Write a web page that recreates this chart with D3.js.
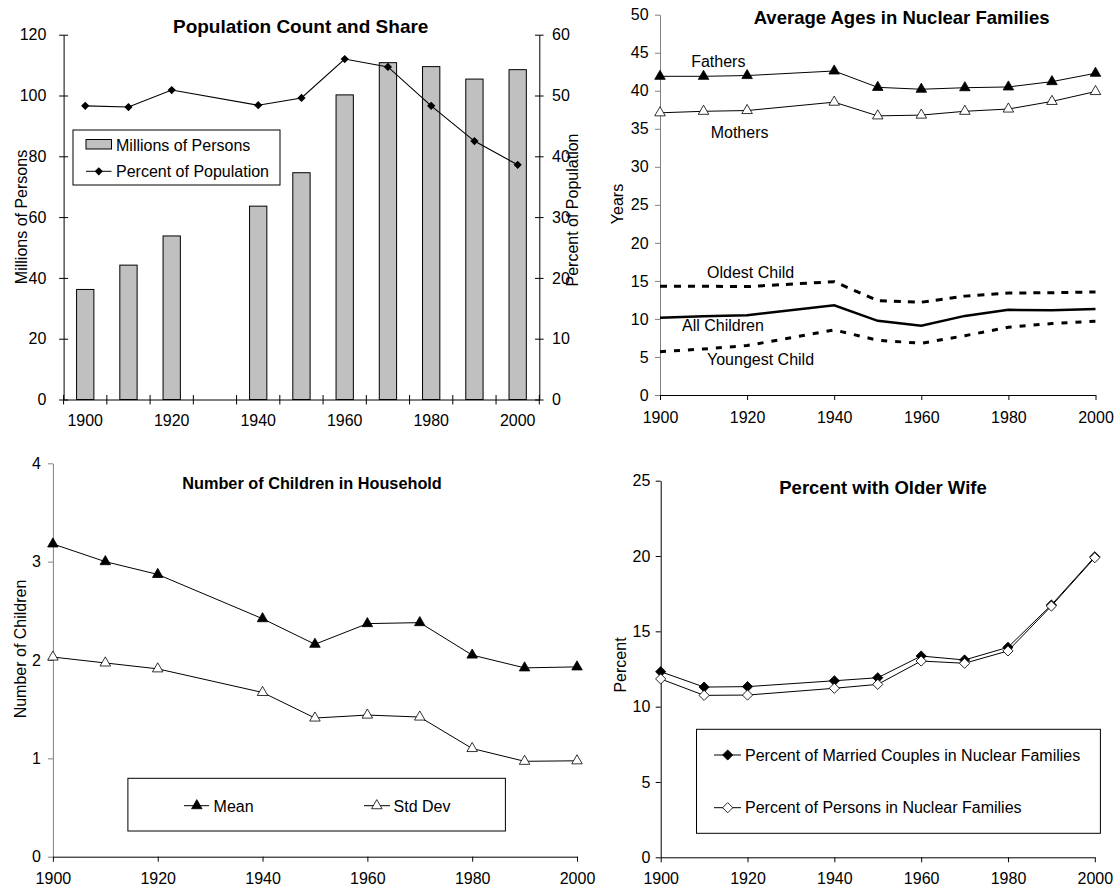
<!DOCTYPE html>
<html><head><meta charset="utf-8">
<script src="https://cdn.jsdelivr.net/npm/d3@7"></script>
<style>body{margin:0;background:#fff} svg{display:block}</style>
</head><body><svg id="c" width="1116" height="888"></svg>
<script>
// ---------- DATA ----------
const years1 = ["1900","1910","1920","1930","1940","1950","1960","1970","1980","1990","2000"];
const millions = [36.2,44.2,53.8,null,63.6,74.6,100.2,110.8,109.5,105.4,108.5];
const percentPop = [48.3,48.1,50.9,null,48.4,49.6,56.0,54.7,48.3,42.5,38.6];
const xLabels1 = ["1900","1920","1940","1960","1980","2000"];

const years = [1900,1910,1920,1940,1950,1960,1970,1980,1990,2000];
const fathers = [41.9,41.9,42.0,42.6,40.45,40.2,40.4,40.5,41.2,42.3];
const mothers = [37.1,37.3,37.4,38.5,36.7,36.8,37.3,37.6,38.6,39.9];
const oldest = [14.3,14.3,14.25,14.9,12.4,12.2,13.0,13.4,13.45,13.55];
const allChildren = [10.16,10.35,10.48,11.8,9.75,9.1,10.4,11.2,11.15,11.3];
const youngest = [5.7,6.05,6.5,8.55,7.2,6.8,7.8,8.9,9.4,9.7];

const meanKids = [3.18,3.0,2.87,2.42,2.16,2.37,2.38,2.05,1.92,1.93];
const sdKids = [2.03,1.97,1.91,1.67,1.41,1.44,1.42,1.10,0.97,0.975];

const marriedOlder = [12.32,11.3,11.33,11.72,11.92,13.36,13.1,13.94,16.75,19.95];
const personsOlder = [11.84,10.75,10.77,11.22,11.48,13.03,12.88,13.7,16.68,19.89];

const yearTicks = [1900,1920,1940,1960,1980,2000];

// ---------- HELPERS ----------
const FONT = '"Liberation Sans", Arial, Helvetica, sans-serif';
const svg = d3.select("#c");
svg.append("rect").attr("width",1116).attr("height",888).attr("fill","#fff");

function styleAxis(g, color){
  g.attr("font-family", FONT).attr("font-size", 16);
  g.selectAll("text").attr("fill","#000");
  g.select(".domain").attr("stroke", color);
  g.selectAll(".tick line").attr("stroke", color);
}
function txt(g, s, x, y, opt={}){
  const t = g.append("text").attr("x",x).attr("y",y).text(s)
    .attr("font-family",FONT).attr("font-size",opt.size||16)
    .attr("font-weight",opt.bold?"bold":"normal")
    .attr("text-anchor",opt.anchor||"start").attr("fill","#000");
  if(opt.ls) t.attr("letter-spacing",opt.ls);
  return t;
}
function vtxt(g, s, x, y){
  return g.append("text").attr("transform",`translate(${x},${y}) rotate(-90)`).text(s)
    .attr("font-family",FONT).attr("font-size",16).attr("text-anchor","middle").attr("fill","#000");
}
const diamond = s => d3.symbol(d3.symbolSquare, s)();
const tri = s => d3.symbol(d3.symbolTriangle, s)();

// ---------- PANEL 1 ----------
const p1 = svg.append("g");
const x1 = d3.scaleBand().domain(years1).range([63.6,539.3]).paddingInner(0.6).paddingOuter(0.3);
const y1L = d3.scaleLinear().domain([0,120]).range([399.5,34.7]);
const y1R = d3.scaleLinear().domain([0,60]).range([399.5,34.7]);
const cx1 = c => x1(c) + x1.bandwidth()/2;

const barData = years1.map((c,i)=>({c, v:millions[i]})).filter(d=>d.v!=null);
p1.selectAll("rect.bar").data(barData).join("rect").attr("class","bar")
  .attr("x",d=>x1(d.c)).attr("width",x1.bandwidth())
  .attr("y",d=>y1L(d.v)).attr("height",d=>y1L(0)-y1L(d.v))
  .attr("fill","#c0c0c0").attr("stroke","#000").attr("stroke-width",1);

const gL1 = p1.append("g").attr("transform","translate(63.6,0)")
  .call(d3.axisLeft(y1L).tickValues(d3.range(0,121,20)).tickSize(4.5).tickPadding(12.7).tickSizeOuter(0));
gL1.selectAll(".tick line").attr("x1",4.5);
styleAxis(gL1,"#000");

const gR1 = p1.append("g").attr("transform","translate(539.3,0)")
  .call(d3.axisRight(y1R).tickValues(d3.range(0,61,10)).tickSize(4.3).tickPadding(8.4).tickSizeOuter(0));
gR1.selectAll(".tick line").attr("x1",-4.3);
styleAxis(gR1,"#000");

const gB1 = p1.append("g").attr("transform","translate(0,399.5)")
  .call(d3.axisBottom(x1).tickValues(xLabels1).tickSize(0).tickPadding(15.5).tickSizeOuter(0));
styleAxis(gB1,"#000");
const bounds = years1.map(c => x1(c) - x1.step()*x1.paddingInner()/2);
bounds.push(bounds[bounds.length-1] + x1.step());
p1.selectAll("line.bt").data(bounds).join("line").attr("class","bt")
  .attr("x1",d=>d).attr("x2",d=>d).attr("y1",395).attr("y2",404.5).attr("stroke","#000");

const pts1 = years1.map((c,i)=>({c, v:percentPop[i]})).filter(d=>d.v!=null);
p1.append("path").datum(pts1)
  .attr("d", d3.line().x(d=>cx1(d.c)).y(d=>y1R(d.v)))
  .attr("fill","none").attr("stroke","#000").attr("stroke-width",1.1);
p1.selectAll("path.dm").data(pts1).join("path").attr("class","dm")
  .attr("d", diamond(34)).attr("transform", d=>`translate(${cx1(d.c)},${y1R(d.v)}) rotate(45)`)
  .attr("fill","#000");

// legend 1
p1.append("rect").attr("x",73).attr("y",130).attr("width",207).attr("height",55)
  .attr("fill","#fff").attr("stroke","#000");
p1.append("rect").attr("x",86).attr("y",139.5).attr("width",25.5).attr("height",9.5)
  .attr("fill","#c0c0c0").attr("stroke","#000");
txt(p1,"Millions of Persons",116,150.5);
p1.append("line").attr("x1",86).attr("x2",111.5).attr("y1",171.3).attr("y2",171.3).attr("stroke","#000");
p1.append("path").attr("d",diamond(34)).attr("transform","translate(98.8,171.3) rotate(45)").attr("fill","#000");
txt(p1,"Percent of Population",116,177);

txt(p1,"Population Count and Share",300.7,33,{size:19,bold:true,anchor:"middle"});
vtxt(p1,"Millions of Persons",26.5,217);
vtxt(p1,"Percent of Population",578,210);

// ---------- PANEL 2 ----------
const p2 = svg.append("g");
const x2 = d3.scaleLinear().domain([1900,2000]).range([660,1095.5]);
const y2 = d3.scaleLinear().domain([0,50]).range([395,14.7]);
const gY2 = p2.append("g").attr("transform","translate(660,0)")
  .call(d3.axisLeft(y2).tickValues(d3.range(0,51,5)).tickSize(5).tickPadding(6.4).tickSizeOuter(0));
styleAxis(gY2,"#808080");
const gX2 = p2.append("g").attr("transform","translate(0,395)")
  .call(d3.axisBottom(x2).tickValues(yearTicks).tickFormat(d3.format("d")).tickSize(5).tickPadding(11.7).tickSizeOuter(0));
styleAxis(gX2,"#000");

function series(g, xs, ys, vals, opt){
  const pts = vals.map((v,i)=>({x:years[i], v}));
  const p = g.append("path").datum(pts)
    .attr("d", d3.line().x(d=>xs(d.x)).y(d=>ys(d.v)))
    .attr("fill","none").attr("stroke","#000").attr("stroke-width",opt.w||1);
  if(opt.dash) p.attr("stroke-dasharray",opt.dash);
  if(opt.marker){
    g.selectAll(null).data(pts).join("path")
      .attr("d", opt.marker)
      .attr("transform", d=>`translate(${xs(d.x)},${ys(d.v)})${opt.rot?" rotate(45)":""}`)
      .attr("fill", opt.fill).attr("stroke","#000").attr("stroke-width",opt.mw||0.8);
  }
}
series(p2,x2,y2,oldest,{w:3,dash:"7,7"});
series(p2,x2,y2,youngest,{w:3,dash:"6,8"});
series(p2,x2,y2,allChildren,{w:2.5});
series(p2,x2,y2,fathers,{w:1,marker:tri(48),fill:"#000"});
series(p2,x2,y2,mothers,{w:1,marker:tri(48),fill:"#fff"});

txt(p2,"Fathers",691.2,66.5);
txt(p2,"Mothers",710.7,138);
txt(p2,"Oldest Child",707,278);
txt(p2,"All Children",682,331);
txt(p2,"Youngest Child",707,365);
txt(p2,"Average Ages in Nuclear Families",901.6,24,{size:18.5,bold:true,anchor:"middle"});
vtxt(p2,"Years",623,204);

// ---------- PANEL 3 ----------
const p3 = svg.append("g");
const x3 = d3.scaleLinear().domain([1900,2000]).range([52.9,577]);
const y3 = d3.scaleLinear().domain([0,4]).range([856.7,463.3]);
const gY3 = p3.append("g").attr("transform","translate(52.9,0)")
  .call(d3.axisLeft(y3).tickValues([0,1,2,3,4]).tickFormat(d3.format("d")).tickSize(5).tickPadding(7).tickSizeOuter(0));
styleAxis(gY3,"#808080");
const gX3 = p3.append("g").attr("transform","translate(0,856.7)")
  .call(d3.axisBottom(x3).tickValues(yearTicks).tickFormat(d3.format("d")).tickSize(5).tickPadding(10.9).tickSizeOuter(0));
styleAxis(gX3,"#000");
series(p3,x3,y3,meanKids,{w:1,marker:tri(48),fill:"#000"});
series(p3,x3,y3,sdKids,{w:1,marker:tri(48),fill:"#fff"});

p3.append("rect").attr("x",127.9).attr("y",778.3).attr("width",377.5).attr("height",52.7)
  .attr("fill","#fff").attr("stroke","#000");
p3.append("line").attr("x1",184).attr("x2",209).attr("y1",805.7).attr("y2",805.7).attr("stroke","#000");
p3.append("path").attr("d",tri(48)).attr("transform","translate(196.8,805.7)").attr("fill","#000").attr("stroke","#000").attr("stroke-width",0.8);
txt(p3,"Mean",213.6,811.5);
p3.append("line").attr("x1",364).attr("x2",390).attr("y1",805.7).attr("y2",805.7).attr("stroke","#000");
p3.append("path").attr("d",tri(48)).attr("transform","translate(376.8,805.7)").attr("fill","#fff").attr("stroke","#000").attr("stroke-width",0.8);
txt(p3,"Std Dev",393.6,811.5);
txt(p3,"Number of Children in Household",312,489,{size:16.3,bold:true,anchor:"middle"});
vtxt(p3,"Number of Children",25.5,649);

// ---------- PANEL 4 ----------
const p4 = svg.append("g");
const x4 = d3.scaleLinear().domain([1900,2000]).range([660.7,1094.8]);
const y4 = d3.scaleLinear().domain([0,25]).range([857.3,480.7]);
const gY4 = p4.append("g").attr("transform","translate(660.7,0)")
  .call(d3.axisLeft(y4).tickValues(d3.range(0,26,5)).tickSize(5).tickPadding(5.3).tickSizeOuter(0));
styleAxis(gY4,"#000");
const gX4 = p4.append("g").attr("transform","translate(0,857.3)")
  .call(d3.axisBottom(x4).tickValues(yearTicks).tickFormat(d3.format("d")).tickSize(5).tickPadding(10.3).tickSizeOuter(0));
styleAxis(gX4,"#000");
series(p4,x4,y4,marriedOlder,{w:1,marker:diamond(52),rot:true,fill:"#000"});
series(p4,x4,y4,personsOlder,{w:1,marker:diamond(52),rot:true,fill:"#fff"});

p4.append("rect").attr("x",696.5).attr("y",729.3).attr("width",403.9).attr("height",104)
  .attr("fill","#fff").attr("stroke","#000");
p4.append("line").attr("x1",714).attr("x2",741).attr("y1",755).attr("y2",755).attr("stroke","#000");
p4.append("path").attr("d",diamond(52)).attr("transform","translate(727.7,755) rotate(45)").attr("fill","#000").attr("stroke","#000").attr("stroke-width",0.8);
txt(p4,"Percent of Married Couples in Nuclear Families",745,760.5);
p4.append("line").attr("x1",714).attr("x2",741).attr("y1",807.7).attr("y2",807.7).attr("stroke","#000");
p4.append("path").attr("d",diamond(52)).attr("transform","translate(727.7,807.7) rotate(45)").attr("fill","#fff").attr("stroke","#000").attr("stroke-width",0.8);
txt(p4,"Percent of Persons in Nuclear Families",745,813);
txt(p4,"Percent with Older Wife",883,494,{size:18.5,bold:true,anchor:"middle"});
vtxt(p4,"Percent",625.5,665);
</script></body></html>
